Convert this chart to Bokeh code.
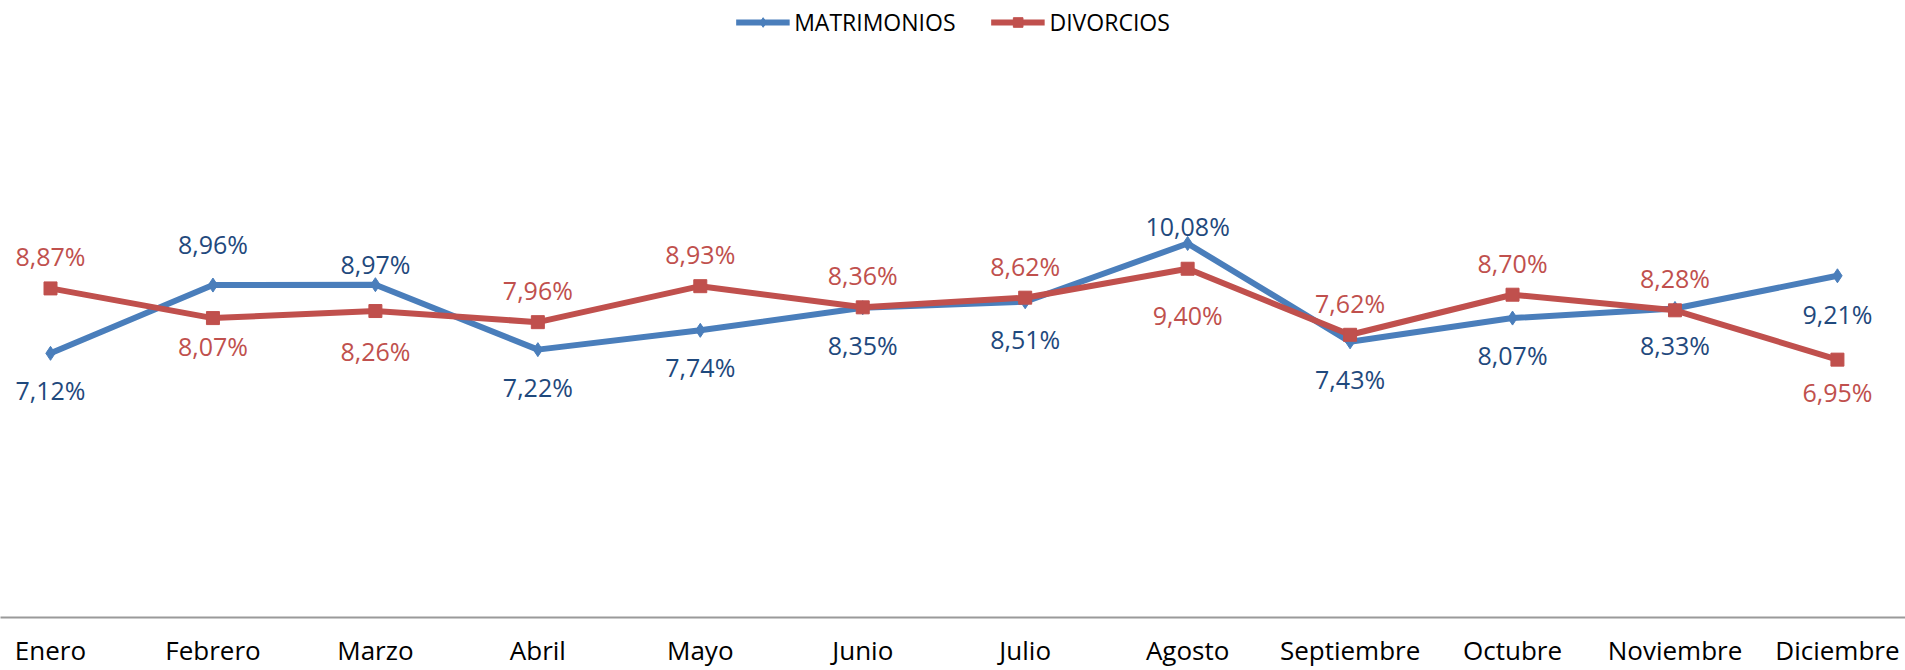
from bokeh.plotting import figure
from bokeh.models import ColumnDataSource, Range1d, FixedTicker, Legend, LegendItem
from bokeh.embed import file_html
from bokeh.resources import INLINE
from bokeh.core.properties import value

# ---- data ----
months = ["Enero", "Febrero", "Marzo", "Abril", "Mayo", "Junio", "Julio",
          "Agosto", "Septiembre", "Octubre", "Noviembre", "Diciembre"]
matrimonios = [7.12, 8.96, 8.97, 7.22, 7.74, 8.35, 8.51, 10.08, 7.43, 8.07, 8.33, 9.21]
divorcios = [8.87, 8.07, 8.26, 7.96, 8.93, 8.36, 8.62, 9.40, 7.62, 8.70, 8.28, 6.95]

# ---- label placement (screen px, positive = downwards) ----
mat_label_dy = [37, -41, -21, 37, 37, 37, 37, -18, 37, 37, 37, 38]
div_label_dy = [-32, 28, 40, -32, -32, -32, -32, 46, -32, -32, -32, 32]

BLUE = "#4A7EBB"
RED = "#C0504D"
BLUE_TXT = "#1F497D"
FONT = "Open Sans"


def fmt(v):
    return f"{v:.2f}".replace(".", ",") + "%"


idx = list(range(len(months)))
src_m = ColumnDataSource(dict(x=idx, y=matrimonios, lab=[fmt(v) for v in matrimonios], dy=mat_label_dy))
src_d = ColumnDataSource(dict(x=idx, y=divorcios, lab=[fmt(v) for v in divorcios], dy=div_label_dy))

p = figure(width=1905, height=670,
           x_range=Range1d(-0.3078, 11.419), y_range=Range1d(0, 16.63),
           output_backend="svg", toolbar_location=None,
           min_border_left=0, min_border_right=0, min_border_top=0, min_border_bottom=52,
           y_axis_location=None)
p.outline_line_color = None
p.grid.visible = False
p.background_fill_color = "white"

xa = p.xaxis[0]
xa.ticker = FixedTicker(ticks=idx)
xa.major_label_overrides = {i: m for i, m in enumerate(months)}
xa.major_tick_line_color = None
xa.minor_tick_line_color = None
xa.major_tick_out = 0
xa.major_tick_in = 0
xa.major_label_standoff = 14
xa.major_label_text_font = FONT
xa.major_label_text_font_size = "26px"
xa.major_label_text_color = "#000000"
xa.axis_line_color = "#9a9a9a"
xa.axis_line_width = 2

lm = p.line("x", "y", source=src_m, line_color=BLUE, line_width=6)
sm = p.scatter("x", "y", source=src_m, marker="diamond", size=14, fill_color=BLUE, line_color=BLUE)
ld = p.line("x", "y", source=src_d, line_color=RED, line_width=6)
sd = p.scatter("x", "y", source=src_d, marker="square", size=13, fill_color=RED, line_color=RED)

p.text("x", "y", text="lab", source=src_m, y_offset="dy", text_align="center", text_baseline="middle",
       text_font=value(FONT), text_font_size="25px", text_color=BLUE_TXT)
p.text("x", "y", text="lab", source=src_d, y_offset="dy", text_align="center", text_baseline="middle",
       text_font=value(FONT), text_font_size="25px", text_color=RED)

legend = Legend(items=[LegendItem(label="MATRIMONIOS", renderers=[lm, sm]),
                       LegendItem(label="DIVORCIOS", renderers=[ld, sd])],
                location="top_center", orientation="horizontal")
legend.label_text_font = FONT
legend.label_text_font_size = "23px"
legend.label_text_color = "#000000"
legend.glyph_width = 54
legend.glyph_height = 24
legend.label_standoff = 5
legend.spacing = 35
legend.padding = 0
legend.margin = 6
legend.border_line_color = None
legend.background_fill_alpha = 0
p.add_layout(legend)

open("out.html", "w").write(file_html(p, INLINE))
